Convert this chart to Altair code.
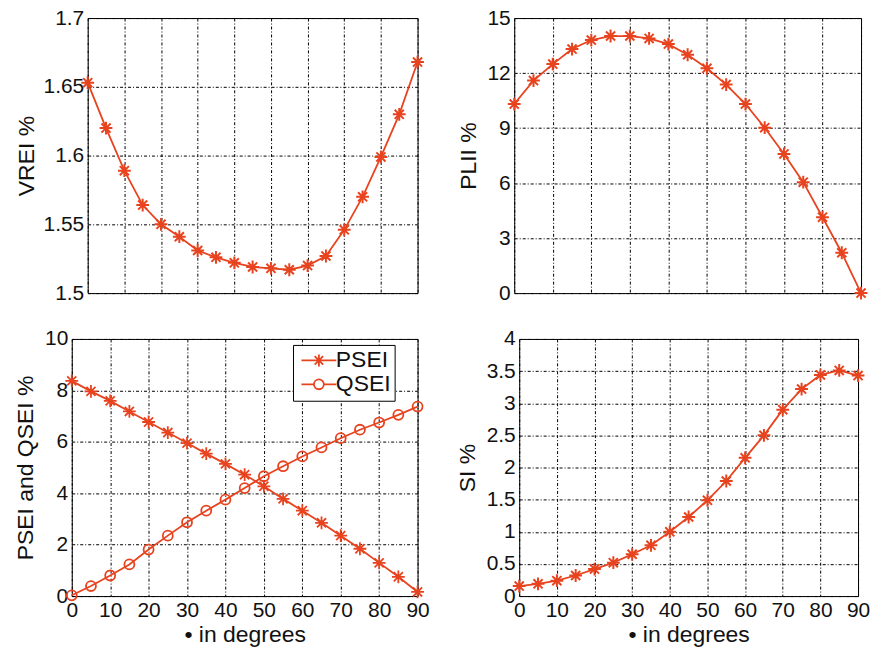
import altair as alt
import pandas as pd

# ---------------- data ----------------
angles = [0, 5, 10, 15, 20, 25, 30, 35, 40, 45, 50, 55, 60, 65, 70, 75, 80, 85, 90]

vrei = [1.653, 1.620, 1.589, 1.564, 1.550, 1.541, 1.531, 1.526, 1.522, 1.519,
        1.518, 1.517, 1.520, 1.527, 1.546, 1.570, 1.599, 1.630, 1.668]

plii = [10.31, 11.59, 12.49, 13.31, 13.80, 14.02, 14.02, 13.89, 13.58, 13.00,
        12.26, 11.37, 10.31, 9.02, 7.59, 6.05, 4.14, 2.20, 0.0]

psei = [8.37, 7.96, 7.59, 7.18, 6.77, 6.36, 5.95, 5.54, 5.14, 4.72,
        4.27, 3.78, 3.32, 2.85, 2.35, 1.84, 1.29, 0.75, 0.16]

qsei = [0.03, 0.39, 0.80, 1.23, 1.81, 2.35, 2.87, 3.32, 3.75, 4.20,
        4.66, 5.05, 5.43, 5.78, 6.14, 6.47, 6.75, 7.05, 7.37]

si = [0.155, 0.19, 0.24, 0.32, 0.42, 0.52, 0.65, 0.79, 1.00, 1.23,
      1.49, 1.79, 2.15, 2.50, 2.90, 3.22, 3.44, 3.51, 3.43]

series_names = ["PSEI", "QSEI"]

x_ticks = [0, 10, 20, 30, 40, 50, 60, 70, 80, 90]
vrei_ticks = [1.5, 1.55, 1.6, 1.65, 1.7]
plii_ticks = [0, 3, 6, 9, 12, 15]
sei_ticks = [0, 2, 4, 6, 8, 10]
si_ticks = [0, 0.5, 1, 1.5, 2, 2.5, 3, 3.5, 4]

x_title = "\u2022 in degrees"

# ---------------- styling ----------------
RED = "#e8431f"
FONT = "Liberation Sans"
TXT = "#111111"

ASTERISK = ("M-1,0L1,0M0,-1L0,1M-0.71,-0.71L0.71,0.71M-0.71,0.71L0.71,-0.71")
LEG_STAR = ("M-1,0L4,0M0.64,0L2.36,0M1.5,-0.86L1.5,0.86"
            "M0.89,-0.61L2.11,0.61M0.89,0.61L2.11,-0.61")
LEG_CIRC = ("M-1,0L0.79,0M2.21,0L4,0"
            "M2.21,0A0.71,0.71,0,1,1,0.79,0A0.71,0.71,0,1,1,2.21,0")


def x_enc(show):
    if show:
        ax = alt.Axis(values=x_ticks, title=x_title, grid=True, labelFlush=False,
                      titlePadding=3)
    else:
        ax = alt.Axis(values=x_ticks, title=None, labels=False, grid=True)
    return alt.X("angle:Q", scale=alt.Scale(domain=[0, 90], nice=False, zero=False),
                 axis=ax)


def y_enc(field, title, domain, ticks, tpad=7):
    return alt.Y(f"{field}:Q", scale=alt.Scale(domain=domain, nice=False, zero=False),
                 axis=alt.Axis(values=ticks, title=title, format=".4~r",
                               labelFlush=False, titlePadding=tpad))


def single_panel(values, title, domain, ticks, show_x, w, h, tpad=7):
    df = pd.DataFrame({"angle": angles, "v": values})
    base = alt.Chart(df).encode(x=x_enc(show_x),
                                y=y_enc("v", title, domain, ticks, tpad))
    line = base.mark_line(color=RED, strokeWidth=1.8, clip=False)
    pts = base.mark_point(shape=ASTERISK, size=165, filled=False, color=RED,
                          strokeWidth=2, opacity=1, clip=False)
    return alt.layer(line, pts).properties(width=w, height=h)


def sei_panel(w, h):
    df = pd.DataFrame({
        "angle": angles + angles,
        "v": psei + qsei,
        "series": [series_names[0]] * len(angles) + [series_names[1]] * len(angles),
    })
    base = alt.Chart(df).encode(
        x=x_enc(True),
        y=y_enc("v", "PSEI and QSEI %", [0, 10], sei_ticks),
    )
    line = base.mark_line(color=RED, strokeWidth=1.8, clip=False).encode(
        detail="series:N")
    pts = base.mark_point(filled=False, color=RED, strokeWidth=1.8, opacity=1,
                          clip=False).encode(
        shape=alt.Shape("series:N",
                        scale=alt.Scale(domain=series_names, range=[ASTERISK, "circle"]),
                        legend=None),
        size=alt.Size("series:N",
                      scale=alt.Scale(domain=series_names, range=[165, 100]),
                      legend=None),
    )
    leg = base.mark_point(filled=False, color=RED, strokeWidth=1.8, opacity=1).encode(
        shape=alt.Shape(
            "series:N",
            scale=alt.Scale(domain=series_names, range=[LEG_STAR, LEG_CIRC]),
            legend=alt.Legend(
                title=None, orient="none", legendX=222, legendY=6,
                symbolSize=196, symbolStrokeColor=RED, symbolStrokeWidth=1.8,
                symbolFillColor="transparent", symbolOpacity=1,
                labelFontSize=23, labelFont=FONT, labelColor=TXT, labelOffset=16,
                padding=4, rowPadding=0, strokeColor="black", fillColor="white",
                cornerRadius=0,
            ),
        )
    ).transform_filter("datum.v > 1000")
    return (alt.layer(line, pts, leg)
            .resolve_scale(shape="independent", size="independent")
            .properties(width=w, height=h))


tl = single_panel(vrei, "VREI %", [1.5, 1.7], vrei_ticks, False, 331, 276, tpad=5)
tr = single_panel(plii, "PLII %", [0, 15], plii_ticks, False, 348, 276)
bl = sei_panel(347, 258)
br = single_panel(si, "SI %", [0, 4], si_ticks, True, 340, 258)

# invisible 1px anchor so the top row can start further right than the bottom row
spacer = (alt.Chart(pd.DataFrame({"s": [0]}))
          .mark_text(text="")
          .encode(x=alt.value(0), y=alt.value(0))
          .properties(width=1, height=1,
                      view=alt.ViewBackground(stroke="transparent")))

row1 = alt.hconcat(alt.hconcat(spacer, tl, spacing=-60), tr, spacing=28)
row2 = alt.hconcat(bl, br, spacing=25)

chart = alt.vconcat(row1, row2, spacing=23).properties(
    padding={"left": 14, "top": 5, "right": 0, "bottom": 0},
    background="white",
).configure_view(
    stroke="black", strokeWidth=1
).configure_axis(
    labelFont=FONT, labelFontSize=21, labelColor=TXT,
    titleFont=FONT, titleFontSize=23, titleFontWeight="normal", titleColor=TXT,
    gridColor="black", gridDash=[3, 2, 1, 2], gridOpacity=1, gridWidth=1,
    domain=False, ticks=False, labelPadding=4,
).configure_legend(
    labelFont=FONT,
)

chart.save("out.html", embed_options={"renderer": "svg", "actions": False})
